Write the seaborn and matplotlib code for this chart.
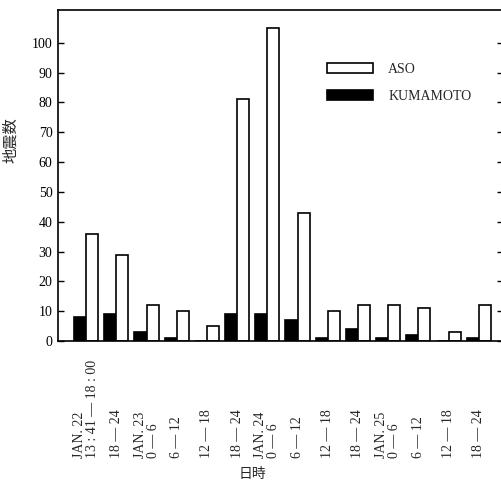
import pandas as pd
import seaborn as sns
import matplotlib.pyplot as plt
from matplotlib.patches import Patch

# six-hour windows, Jan 22 - Jan 25
slots = ["22-13", "22-18", "23-00", "23-06", "23-12", "23-18", "24-00",
         "24-06", "24-12", "24-18", "25-00", "25-06", "25-12", "25-18"]
slot_labels = ["JAN. 22\n13 : 41 — 18 : 00", "18 — 24", "JAN. 23\n0 — 6", "6 — 12",
               "12 — 18", "18 — 24", "JAN. 24\n0 — 6", "6 — 12", "12 — 18", "18 — 24",
               "JAN. 25\n0 — 6", "6 — 12", "12 — 18", "18 — 24"]
aso = [36, 29, 12, 10, 5, 81, 105, 43, 10, 12, 12, 11, 3, 12]
kumamoto = [8, 9, 3, 1, 0, 9, 9, 7, 1, 4, 1, 2, 0, 1]
stations = ["KUMAMOTO", "ASO"]

df = pd.DataFrame({
    "slot": slots * 2,
    "station": ["ASO"] * len(slots) + ["KUMAMOTO"] * len(slots),
    "count": aso + kumamoto,
})

sns.set_style("ticks")
plt.rcParams["font.family"] = ["Liberation Serif", "Noto Sans CJK JP"]

fig = plt.figure(figsize=(5.02, 4.87), dpi=100)
ax = fig.add_axes([58 / 502, 1 - 341 / 487, 445 / 502, 331 / 487])

sns.barplot(data=df, x="slot", y="count", hue="station", order=slots,
            hue_order=stations, palette={"KUMAMOTO": "black", "ASO": "white"},
            edgecolor="black", linewidth=1.2, width=0.8, errorbar=None,
            legend=False, ax=ax)

ax.set_xlim(-0.93, 13.8)
ax.set_ylim(0, 111)
ax.set_yticks(range(0, 101, 10))
ax.tick_params(axis="y", direction="in", length=4, width=1, right=True,
               pad=4, labelsize=10, colors="black")
ax.tick_params(axis="x", length=0, pad=84)
ax.set_xticks(range(len(slots)))
ax.set_xticklabels(slot_labels, rotation=90, va="bottom", ha="center",
                   fontsize=10, multialignment="left", linespacing=1.0)

for s in ax.spines.values():
    s.set_visible(True)
    s.set_linewidth(1.2)
    s.set_color("black")

handles = [Patch(facecolor="white", edgecolor="black", linewidth=1.2, label="ASO"),
           Patch(facecolor="black", edgecolor="black", linewidth=1.2, label="KUMAMOTO")]
ax.legend(handles=handles, loc="upper left",
          bbox_to_anchor=((327 - 58) / 445, (341 - 63) / 331),
          frameon=False, borderpad=0, borderaxespad=0, handlelength=3.3,
          handleheight=0.75, handletextpad=1.1, labelspacing=1.0, fontsize=10)

ax.set_ylabel("地震数", fontsize=11)
ax.yaxis.set_label_coords(-0.09, 0.607)
ax.set_xlabel("日時", fontsize=10)
ax.xaxis.set_label_coords(0.436, -0.385)

fig.savefig("out.png", dpi=100)
